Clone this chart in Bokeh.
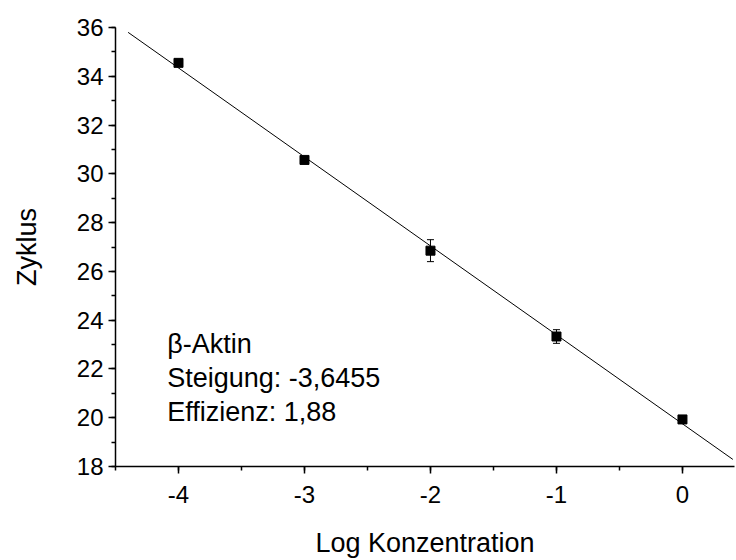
import numpy as np
from bokeh.plotting import figure
from bokeh.models import (Range1d, ColumnDataSource, Whisker, TeeHead, Label,
                          SingleIntervalTicker, PrintfTickFormatter)
from bokeh.embed import file_html
from bokeh.resources import INLINE

# ---- data ----
log_conc = [-4, -3, -2, -1, 0]
zyklus = [34.55, 30.57, 26.85, 23.33, 19.93]
zyklus_err = [0.08, 0.08, 0.45, 0.28, 0.08]
fit_x_ends = [-4.4, 0.4]
annotation_lines = ["β-Aktin", "Steigung: -3,6455", "Effizienz: 1,88"]
x_label = "Log Konzentration"
y_label = "Zyklus"

FONT = "Liberation Sans"

slope, intercept = np.polyfit(log_conc, zyklus, 1)
fit_y = [slope * x + intercept for x in fit_x_ends]

p = figure(width=736, height=560, output_backend="svg", toolbar_location=None,
           x_range=Range1d(-4.5, 0.413), y_range=Range1d(18, 36),
           min_border_left=115, min_border_right=2, min_border_top=27, min_border_bottom=92)
p.outline_line_color = None
p.xgrid.visible = False
p.ygrid.visible = False

p.line(fit_x_ends, fit_y, line_color="black", line_width=1)

src = ColumnDataSource(dict(x=log_conc, y=zyklus,
                            lower=[v - e for v, e in zip(zyklus, zyklus_err)],
                            upper=[v + e for v, e in zip(zyklus, zyklus_err)]))
w = Whisker(base="x", lower="lower", upper="upper", source=src, line_color="black", line_width=1,
            upper_head=TeeHead(size=7, line_color="black", line_width=1),
            lower_head=TeeHead(size=7, line_color="black", line_width=1))
p.add_layout(w)
p.scatter("x", "y", source=src, marker="square", size=9, fill_color="black", line_color="black")

# axes
p.xaxis.ticker = SingleIntervalTicker(interval=1, num_minor_ticks=2)
p.yaxis.ticker = SingleIntervalTicker(interval=2, num_minor_ticks=2)
for ax in (p.xaxis[0], p.yaxis[0]):
    ax.formatter = PrintfTickFormatter(format="%d")
    ax.axis_line_width = 1.5
    ax.major_tick_line_width = 1.5
    ax.minor_tick_line_width = 1.5
    ax.major_tick_out = 7
    ax.major_tick_in = 0
    ax.minor_tick_out = 4
    ax.minor_tick_in = 0
    ax.major_label_text_font = FONT
    ax.major_label_text_font_size = "24px"
    ax.major_label_text_color = "black"
    ax.axis_label_text_font = FONT
    ax.axis_label_text_font_size = "27px"
    ax.axis_label_text_font_style = "normal"
    ax.axis_label_text_color = "black"
    ax.axis_line_color = "black"
    ax.major_tick_line_color = "black"
    ax.minor_tick_line_color = "black"
p.xaxis.axis_label = x_label
p.yaxis.axis_label = y_label
p.xaxis.major_label_standoff = 12
p.xaxis.axis_label_standoff = 22
p.yaxis.major_label_standoff = 5
p.yaxis.axis_label_standoff = 32

label_y = [23.03, 21.62, 20.23]
for txt, yy in zip(annotation_lines, label_y):
    p.add_layout(Label(x=-4.09, y=yy, text=txt, text_font=FONT, text_font_size="27px",
                       text_color="black", text_baseline="alphabetic"))

open("out.html", "w").write(file_html(p, INLINE))
